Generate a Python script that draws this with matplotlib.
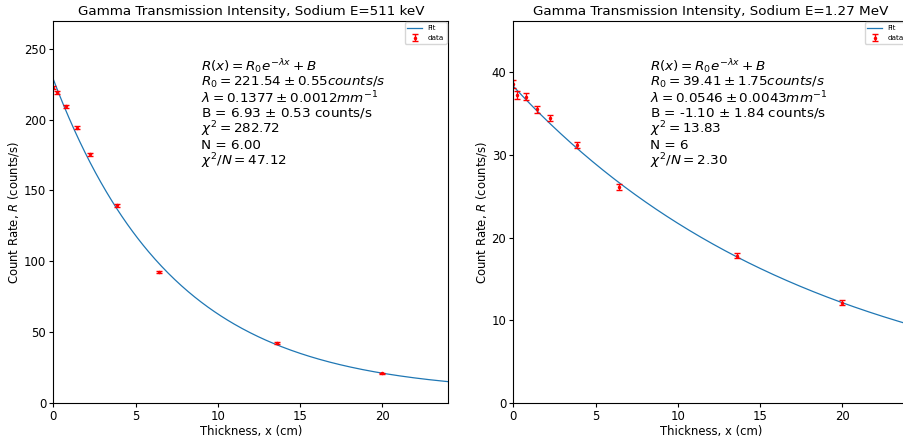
import numpy as np
import matplotlib
matplotlib.use("Agg")
import matplotlib.pyplot as plt

# thickness values (cm), shared by both runs
thickness = [0.0, 0.2, 0.75, 1.43, 2.21, 3.86, 6.4, 13.6, 19.95]

# 511 keV line
rate_511 = [222.5, 219.2, 209.4, 194.4, 175.6, 139.4, 92.7, 42.2, 21.1]
err_511 = [1.2, 1.2, 1.1, 1.1, 1.0, 0.9, 0.8, 0.6, 0.4]
fit_511 = (221.54, 0.1377, 6.93)
text_511 = ("$R(x) = R_0 e^{-\\lambda x} + B$\n"
            "$R_0 = 221.54 \\pm 0.55 counts/s$\n"
            "$\\lambda = 0.1377 \\pm 0.0012 mm^{-1}$\n"
            "B = 6.93 $\\pm$ 0.53 counts/s\n"
            "$\\chi^2 = 282.72$\n"
            "N = 6.00\n"
            "$\\chi^2/N = 47.12$")

# 1.27 MeV line
rate_1270 = [38.6, 37.25, 37.05, 35.5, 34.45, 31.2, 26.1, 17.8, 12.15]
err_1270 = [0.45, 0.45, 0.45, 0.4, 0.4, 0.4, 0.35, 0.3, 0.25]
fit_1270 = (39.41, 0.0546, -1.10)
text_1270 = ("$R(x) = R_0 e^{-\\lambda x} + B$\n"
             "$R_0 = 39.41 \\pm 1.75 counts/s$\n"
             "$\\lambda = 0.0546 \\pm 0.0043 mm^{-1}$\n"
             "B = -1.10 $\\pm$ 1.84 counts/s\n"
             "$\\chi^2 = 13.83$\n"
             "N = 6\n"
             "$\\chi^2/N = 2.30$")


def model(x, r0, lam, b):
    return r0 * np.exp(-lam * x) + b


def panel(ax, rate, err, fit, txt, title, ytop, ticks, tx):
    xs = np.linspace(0, 24, 300)
    ax.plot(xs, model(xs, *fit), color="#1f77b4", lw=0.9, label="Fit")
    ax.errorbar(thickness, rate, yerr=err, fmt="r.", ms=3, elinewidth=1,
                capsize=2.5, ecolor="red", label="data")
    ax.set_xlim(0, 24)
    ax.set_ylim(0, ytop)
    ax.set_yticks(ticks)
    ax.set_title(title, fontsize=9.7, pad=4)
    ax.set_xlabel("Thickness, x (cm)", fontsize=8.4, labelpad=1.5)
    ax.set_ylabel("Count Rate, $R$ (counts/s)", fontsize=8.4, labelpad=2)
    ax.tick_params(labelsize=8.4, length=3, pad=2)
    ax.text(tx, 0.905, txt, transform=ax.transAxes, fontsize=9.7,
            va="top", linespacing=0.97)
    ax.legend(loc="upper right", fontsize=5.2, borderaxespad=0.2)


fig = plt.figure(figsize=(9.04, 4.4), dpi=100)
ax1 = fig.add_axes([53.3 / 904, 37 / 440, 395 / 904, 382 / 440])
ax2 = fig.add_axes([513.3 / 904, 37 / 440, 395 / 904, 382 / 440])

panel(ax1, rate_511, err_511, fit_511, text_511,
      "Gamma Transmission Intensity, Sodium E=511 keV", 269.6,
      [0, 50, 100, 150, 200, 250], 0.375)
panel(ax2, rate_1270, err_1270, fit_1270, text_1270,
      "Gamma Transmission Intensity, Sodium E=1.27 MeV", 46.2,
      [0, 10, 20, 30, 40], 0.347)

fig.savefig("out.png", dpi=100)
